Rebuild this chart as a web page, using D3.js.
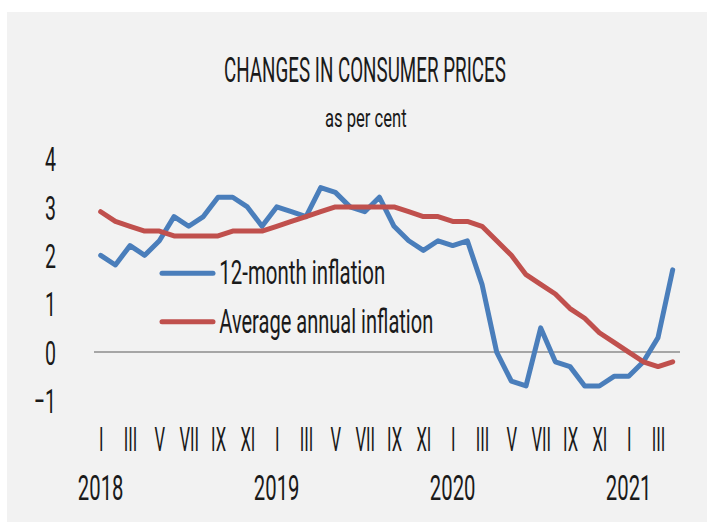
<!DOCTYPE html>
<html>
<head>
<meta charset="utf-8">
<script src="https://cdn.jsdelivr.net/npm/d3@7"></script>
<style>
  body { margin: 0; background: #ffffff; }
  text { font-family: Roboto, "DejaVu Sans", sans-serif; fill: #1a1a1a; }
</style>
</head>
<body>
<script>
'use strict';

// monthly values, Jan 2018 - Apr 2021
var inflation12m = [2.0, 1.8, 2.2, 2.0, 2.3, 2.8, 2.6, 2.8, 3.2, 3.2,
    3.0, 2.6, 3.0, 2.9, 2.8, 3.4, 3.3, 3.0, 2.9, 3.2,
    2.6, 2.3, 2.1, 2.3, 2.2, 2.3, 1.4, 0.0, -0.6, -0.7,
    0.5, -0.2, -0.3, -0.7, -0.7, -0.5, -0.5, -0.2, 0.3, 1.7];

var avgAnnual = [2.9, 2.7, 2.6, 2.5, 2.5, 2.4, 2.4, 2.4, 2.4, 2.5,
    2.5, 2.5, 2.6, 2.7, 2.8, 2.9, 3.0, 3.0, 3.0, 3.0,
    3.0, 2.9, 2.8, 2.8, 2.7, 2.7, 2.6, 2.3, 2.0, 1.6,
    1.4, 1.2, 0.9, 0.7, 0.4, 0.2, 0.0, -0.2, -0.3, -0.2];

// labels on every second month
var monthLabels = ["I", "III", "V", "VII", "IX", "XI",
    "I", "III", "V", "VII", "IX", "XI",
    "I", "III", "V", "VII", "IX", "XI",
    "I", "III"];

var years = ["2018", "2019", "2020", "2021"];
var yTicks = [-1, 0, 1, 2, 3, 4];

var seriesNames = ["12-month inflation", "Average annual inflation"];
var seriesColors = ["#4a7ebb", "#c0504d"];

var width = 707;
var height = 522;

var svg = d3.select("body").append("svg")
    .attr("width", width)
    .attr("height", height);

svg.append("rect")
    .attr("x", 7)
    .attr("y", 12)
    .attr("width", width - 7)
    .attr("height", height - 12)
    .attr("fill", "#f2f2f2");

var x = d3.scaleLinear()
    .domain([0, inflation12m.length - 1])
    .range([100.7, 672.7]);

var y = d3.scaleLinear()
    .domain([-1, 4])
    .range([400.5, 158.5]);

// squeeze a text horizontally so it gets the narrow look of the original font
function squeezeTo(sel, w) {
    var natural = sel.node().getComputedTextLength();
    return w / natural;
}

function addText(str, px, py, size, w) {
    var g = svg.append("g");
    var t = g.append("text")
        .attr("font-size", size)
        .text(str);
    var sx = squeezeTo(t, w);
    g.attr("transform", "translate(" + px + "," + py + ") scale(" + sx + ",1)");
    return g;
}

// title
addText("CHANGES IN CONSUMER PRICES", 224, 82.3, 35, 282);
addText("as per cent", 325, 126.7, 25, 81.7);

// zero line
svg.append("line")
    .attr("x1", 94)
    .attr("x2", 680)
    .attr("y1", y(0))
    .attr("y2", y(0))
    .attr("stroke", "#8c8c8c")
    .attr("stroke-width", 1.5);

// y axis
var yAxisGroup = svg.append("g")
    .attr("transform", "translate(56,0)");

yAxisGroup.call(d3.axisLeft(y).tickValues(yTicks).tickSize(0).tickFormat(d3.format("d")));
yAxisGroup.select(".domain").remove();
var yText = yAxisGroup.selectAll("text")
    .attr("x", 0)
    .attr("dy", "0.36em")
    .attr("font-size", 34)
    .attr("font-family", null)
    .attr("fill", null);
var ySx = squeezeTo(yText.filter(function (d) { return d === 4; }), 11);
yText.attr("transform", "scale(" + ySx + ",1)");

// x axis month labels
var xAxisGroup = svg.append("g")
    .attr("transform", "translate(0,450.5)");

var monthTicks = d3.range(0, inflation12m.length, 2);

xAxisGroup.call(d3.axisBottom(x)
    .tickValues(monthTicks)
    .tickSize(0)
    .tickFormat(function (i) { return monthLabels[i / 2]; }));
xAxisGroup.select(".domain").remove();
var xText = xAxisGroup.selectAll("text")
    .attr("y", 0)
    .attr("dy", null)
    .attr("font-size", 34)
    .attr("font-family", null)
    .attr("fill", null);
var xSx = squeezeTo(xText.filter(function (d) { return d === 6; }), 19.6);
xText.attr("transform", "scale(" + xSx + ",1)");

// year labels under every January
var yearText = svg.selectAll(".year")
    .data(years)
    .enter()
    .append("text")
    .attr("class", "year")
    .attr("text-anchor", "middle")
    .attr("font-size", 35)
    .text(function (d) { return d; });
var yearSx = squeezeTo(yearText.filter(function (d, k) { return k === 0; }), 45.7);
yearText.attr("transform", function (d, k) {
    return "translate(" + x(k * 12) + ",500) scale(" + yearSx + ",1)";
});

// lines
var line = d3.line()
    .x(function (d, i) { return x(i); })
    .y(function (d) { return y(d); });

[inflation12m, avgAnnual].forEach(function (series, k) {
    svg.append("path")
        .datum(series)
        .attr("fill", "none")
        .attr("stroke", seriesColors[k])
        .attr("stroke-width", 5)
        .attr("stroke-linejoin", "round")
        .attr("stroke-linecap", "round")
        .attr("d", line);
});

// legend
var legendY = [273.3, 321.7];
var legendWidths = [166, 214];

seriesNames.forEach(function (name, k) {
    svg.append("line")
        .attr("x1", 162)
        .attr("x2", 213)
        .attr("y1", legendY[k])
        .attr("y2", legendY[k])
        .attr("stroke", seriesColors[k])
        .attr("stroke-width", 5)
        .attr("stroke-linecap", "round");

    addText(name, 219.3, legendY[k] + 11, 33, legendWidths[k]);
});
</script>
</body>
</html>
